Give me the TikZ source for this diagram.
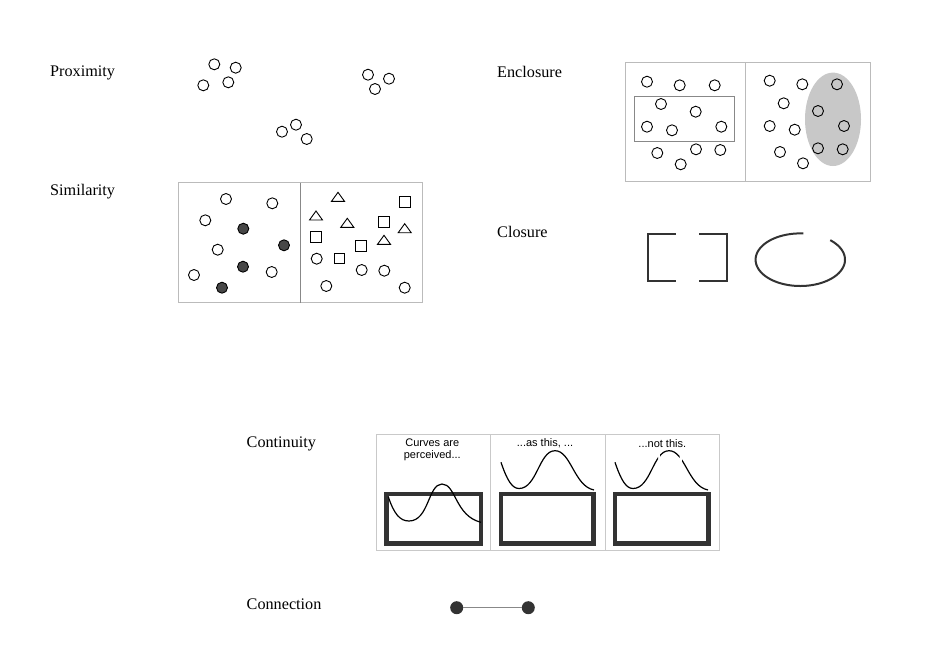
\documentclass[tikz,border=0pt]{standalone}
\usepackage{fontspec}
\setmainfont{Liberation Serif}
\newfontfamily\sansf{Liberation Sans}
\definecolor{dk}{HTML}{333333}
\definecolor{boxgray}{HTML}{BBBBBB}
\definecolor{midgray}{HTML}{888888}
\definecolor{ellgray}{HTML}{C8C8C8}
\begin{document}
\begin{tikzpicture}[x=1pt,y=-1pt,
  lbl/.style={anchor=base west,inner sep=0pt,font=\fontsize{16.2}{19}\selectfont},
  oc/.style={draw=black,line width=0.9pt,fill=white},
  fc/.style={draw=black,line width=0.9pt,fill=dk!90},
  shp/.style={draw=black,line width=0.9pt},
  thinbox/.style={draw=boxgray,line width=0.8pt},
  closure/.style={draw=dk,line width=2pt},
  thickrect/.style={draw=dk,line width=4.5pt},
  crv/.style={draw=black,line width=1.2pt},
  ctext/.style={font=\sansf\fontsize{11}{12.7}\selectfont,align=center,inner sep=0pt},
  dot/.style={circle,fill=dk,inner sep=0pt,minimum size=13pt}]
\useasboundingbox[fill=white] (0,0) rectangle (940,667);

% labels
\node[lbl] (lprox) at (50,76) {Proximity};
\node[lbl] (lsim) at (50,195.5) {Similarity};
\node[lbl] (lenc) at (497,77.3) {Enclosure};
\node[lbl] (lclo) at (497,237) {Closure};
\node[lbl] (lcon) at (246.5,447.7) {Continuity};
\node[lbl] (lconn) at (246.5,609) {Connection};

% Proximity
\foreach \x/\y in {214.3/64.3,235.7/67.7,203.3/85.3,228.3/82.3,368/74.7,389/78.7,375/89,282/131.7,296/124.7,306.7/139}
  \draw[oc] (\x,\y) circle[radius=5.5pt];

% Similarity
\draw[thinbox] (178.3,182.7) rectangle (422,302.7);
\draw[draw=midgray,line width=0.8pt] (300,182.7) -- (300,302.7);
\foreach \x/\y in {226/199,272.3/203.3,205.3/220.3,217.7/249.7,194/275,271.7/272,316.7/258.7,361.7/270,384.3/270.7,326.3/286,404.7/287.7}
  \draw[oc] (\x,\y) circle[radius=5.5pt];
\foreach \x/\y in {243.3/228.7,284/245.3,243/266.7,222/287.7}
  \draw[fc] (\x,\y) circle[radius=5.5pt];
\foreach \x/\y in {338/197.3,316/216,347.3/223.3,404.7/228.7,384/240.3}
  \draw[shp] (\x-6.5,\y+4) -- (\x,\y-5) -- (\x+6.5,\y+4) -- cycle;
\foreach \x/\y in {405/201.7,384/222,316/237,361/245.7,339.3/258.3}
  \draw[shp] (\x-5.3,\y-5.3) rectangle (\x+5.3,\y+5.3);

% Enclosure
\draw[thinbox] (625.7,62.7) rectangle (870,181);
\draw[thinbox] (745,62.7) -- (745,181);
\draw[draw=midgray,line width=0.8pt] (634.7,96) rectangle (734.3,141);
\fill[ellgray] (833,119.3) ellipse[x radius=28pt,y radius=46.7pt];
\foreach \x/\y in {647/81.7,679.7/85.3,714.7/85.3,661/104,695.7/111.7,647/126.7,672/130.3,721.3/126.7,657.3/153,696/149.3,720.3/150,680.7/164.3}
  \draw[oc] (\x,\y) circle[radius=5.5pt];
\foreach \x/\y in {769.7/80.7,802.3/84.3,783.7/103.3,769.7/126,794.7/129.7,780/152,803/163.3}
  \draw[oc] (\x,\y) circle[radius=5.5pt];
\foreach \x/\y in {837/84.3,818/111,844/126,818/148.3,842.7/149.3}
  \draw[shp] (\x,\y) circle[radius=5.5pt];

% Closure
\draw[closure] (675.7,234.3) -- (648.3,234.3) -- (648.3,281) -- (675.7,281);
\draw[closure] (699.3,234.3) -- (726.7,234.3) -- (726.7,281) -- (699.3,281);
\draw[closure] plot[domain=86:408,samples=120,smooth] ({800.3+44.7*cos(\x)},{259.7-26.3*sin(\x)});

% Continuity
\draw[draw=boxgray!80,line width=0.8pt] (376.5,434) rectangle (719.5,550);
\draw[draw=boxgray!80,line width=0.8pt] (490,434) -- (490,550);
\draw[draw=boxgray!80,line width=0.8pt] (605,434) -- (605,550);
\node[ctext] (t1) at (432.3,449.8) {Curves are\\perceived...};
\node[ctext] (t2) at (545,443.3) {...as this, ...};
\node[ctext] (t3) at (662.3,443.3) {...not this.};
\draw[thickrect] (386.7,494.2) rectangle (480.8,543.3);
\draw[thickrect] (500.8,494.2) rectangle (593.3,543.3);
\draw[thickrect] (615,494.2) rectangle (708.3,543.3);
\draw[crv] (388.3,496.7) .. controls (394,514) and (400,521) .. (409,521)
  .. controls (429,521) and (428,484) .. (442,484)
  .. controls (456,484) and (455,516) .. (481,522.3);
\draw[crv] (501,462.3) .. controls (507,480) and (512,488.5) .. (519,488.5)
  .. controls (537,488.5) and (539,450.7) .. (555,450.7)
  .. controls (571,450.7) and (574,486) .. (594,490);
\begin{scope}
  \clip (610,440) rectangle (658.2,495) (660,440) rectangle (679.5,495) (682,440) rectangle (715,495);
  \draw[crv] (615,462.3) .. controls (621,480) and (626,488.5) .. (633,488.5)
    .. controls (651,488.5) and (653,450.7) .. (669,450.7)
    .. controls (685,450.7) and (688,486) .. (708,490);
\end{scope}

% Connection
\node[dot] (c1) at (456.7,607.7) {};
\node[dot] (c2) at (528.3,607.7) {};
\draw[draw=midgray,line width=0.8pt] (c1) -- (c2);
\end{tikzpicture}
\end{document}
